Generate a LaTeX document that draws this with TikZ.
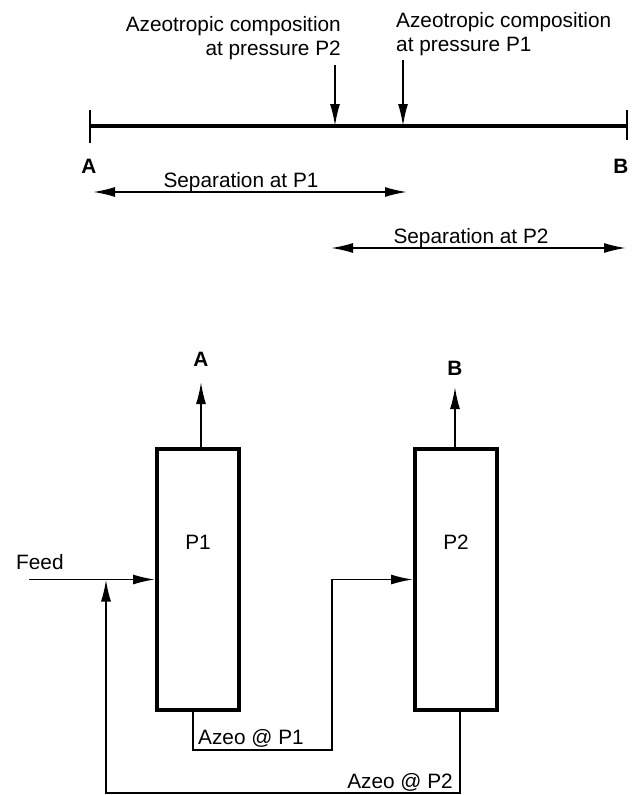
\documentclass[tikz,border=0pt]{standalone}
\usepackage{fontspec}
\setmainfont{Liberation Sans}
\usetikzlibrary{arrows.meta}

\begin{document}
\begin{tikzpicture}[x=1pt, y=-1pt, font=\fontsize{20.8}{24}\selectfont,
  >={Latex[length=22pt, width=10pt]},
  flow/.style={line width=1.8pt, ->},
  span/.style={line width=1.8pt, <->},
  colbox/.style={draw, line width=4pt, minimum width=82pt, minimum height=261pt, inner sep=0pt},
  lbl/.style={inner sep=0pt}]
  \useasboundingbox (0,0) rectangle (639,795);
  % composition axis
  \coordinate (axA) at (90,126);
  \coordinate (axB) at (627,126);
  \draw[line width=4pt] (axA) -- (axB);
  \draw[line width=1.8pt] (90,110) -- (90,143) (627,110) -- (627,140);
  \node[lbl, font=\fontsize{20.8}{24}\selectfont\bfseries, anchor=base] (endA) at (89,173) {A};
  \node[lbl, font=\fontsize{20.8}{24}\selectfont\bfseries, anchor=base] (endB) at (621,173) {B};
  % azeotropes
  \node[lbl, anchor=north east, align=right] (txtP2) at (341,16) {Azeotropic composition\\at pressure P2};
  \node[lbl, anchor=north west, align=left] (txtP1) at (396,12) {Azeotropic composition\\at pressure P1};
  \coordinate (azP2) at (335,65);
  \coordinate (azP1) at (403,60);
  \draw[flow] (azP2) -- (azP2 |- axA);
  \draw[flow] (azP1) -- (azP1 |- axA);
  % separation ranges
  \node[lbl, anchor=base] (sepP1) at (241,187) {Separation at P1};
  \node[lbl, anchor=base] (sepP2) at (471,243) {Separation at P2};
  \coordinate (s1l) at (93,192);  \coordinate (s1r) at (407,192);
  \coordinate (s2l) at (331,248); \coordinate (s2r) at (626,248);
  \draw[span] (s1l) -- (s1r);
  \draw[span] (s2l) -- (s2r);

  % columns
  \node[colbox] (colP1) at (198,579.5) {};
  \node[colbox] (colP2) at (456,579.5) {};
  \node[lbl, anchor=base] (nmP1) at (198,549) {P1};
  \node[lbl, anchor=base] (nmP2) at (456,549) {P2};
  \node[lbl, font=\fontsize{20.8}{24}\selectfont\bfseries, anchor=base] (topA) at (201,366) {A};
  \node[lbl, font=\fontsize{20.8}{24}\selectfont\bfseries, anchor=base] (topB) at (455,375) {B};
  \draw[flow] ([xshift=3pt]colP1.north) -- ([xshift=3pt]colP1.north |- 0,382);
  \draw[flow] ([xshift=-1pt]colP2.north) -- ([xshift=-1pt]colP2.north |- 0,387);
  % feed and recycles
  \node[lbl, anchor=base west] (feed) at (16,569) {Feed};
  \coordinate (feedin) at (29,579.5);
  \coordinate (mix) at (106,579.5);
  \draw[flow] (feedin) -- (colP1.west);
  \draw[flow] ([xshift=-5pt]colP1.south) |- (332,750) |- (colP2.west);
  \draw[flow] ([xshift=4pt]colP2.south) |- (106,793) -- (mix);
  \node[lbl, anchor=base west] (azeo1) at (198,744) {Azeo @ P1};
  \node[lbl, anchor=base east] (azeo2) at (453,788) {Azeo @ P2};
\end{tikzpicture}
\end{document}
